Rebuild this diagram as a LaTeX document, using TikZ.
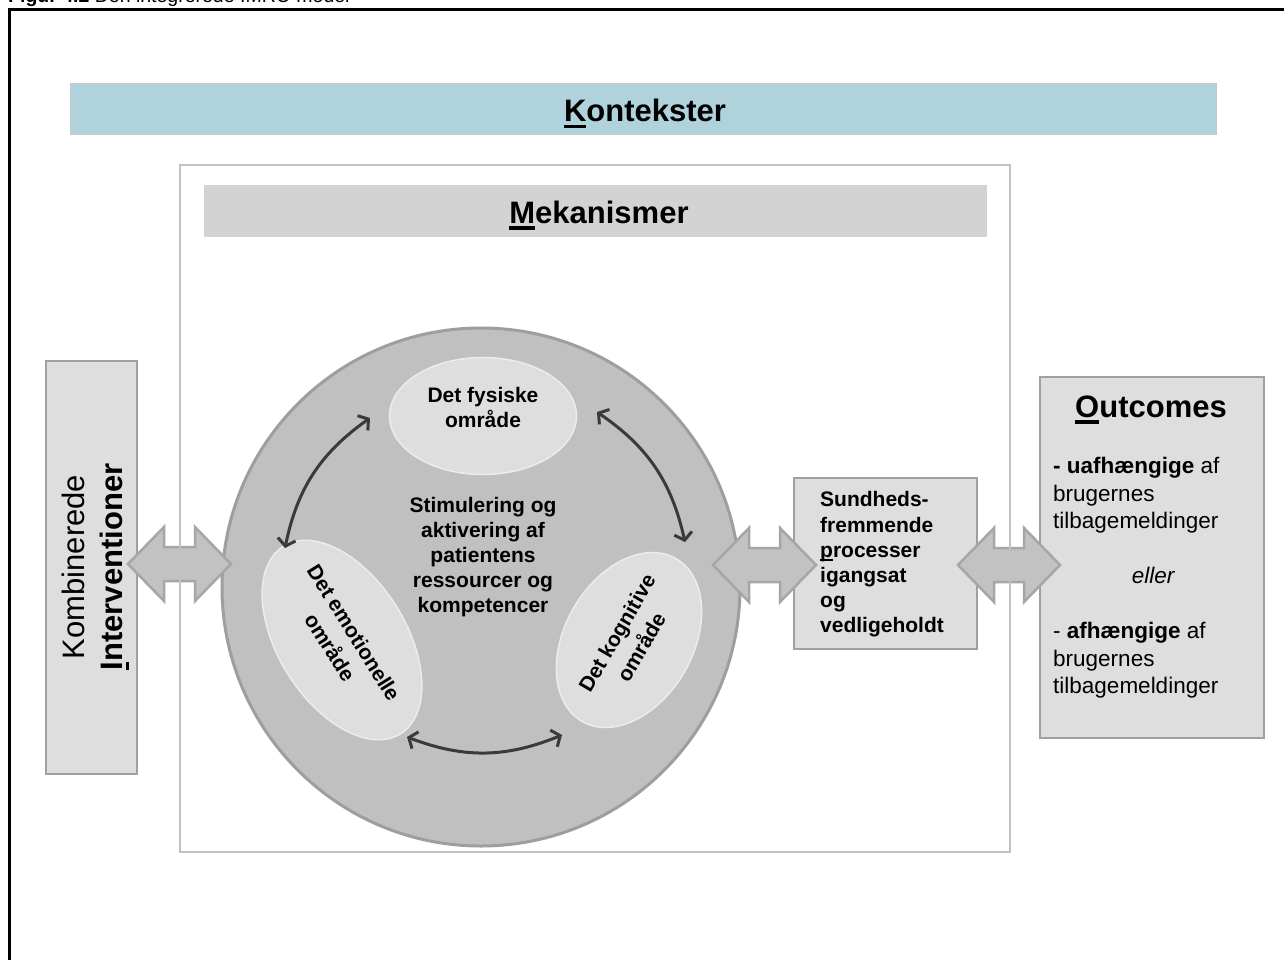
\documentclass[tikz,border=0pt]{standalone}
\usepackage{fontspec}
\setmainfont{Liberation Sans}
\usetikzlibrary{shapes.geometric,arrows.meta,bending,calc}
\definecolor{ctxblue}{RGB}{176,210,220}
\definecolor{ctxborder}{RGB}{200,200,200}
\definecolor{mekhdr}{RGB}{211,211,211}
\definecolor{mekborder}{RGB}{194,194,194}
\definecolor{circfill}{RGB}{192,192,192}
\definecolor{circborder}{RGB}{158,158,158}
\definecolor{ellfill}{RGB}{222,222,222}
\definecolor{ellborder}{RGB}{236,236,236}
\definecolor{boxfill}{RGB}{222,222,222}
\definecolor{boxborder}{RGB}{160,160,160}
\definecolor{bafill}{RGB}{194,194,194}
\definecolor{baborder}{RGB}{166,166,166}
\definecolor{arrowdark}{RGB}{58,58,58}
\newcommand\myul[3]{\setbox0\hbox{#3}\rlap{\rule[-#1]{\wd0}{#2}}\box0}
\newcommand\blockarrow[2]{\draw[barrow] (#1) -- ($(#1)+(36,37)$) -- ($(#1)+(36,17)$) -- ($(#2)+(-36,17)$) -- ($(#2)+(-36,37)$) -- (#2) -- ($(#2)+(-36,-37)$) -- ($(#2)+(-36,-17)$) -- ($(#1)+(36,-17)$) -- ($(#1)+(36,-37)$) -- cycle;}
\tikzset{
  hdr/.style={font=\fontsize{31}{37}\selectfont\bfseries, inner sep=0pt},
  bodyb/.style={font=\fontsize{21}{25.2}\selectfont\bfseries, inner sep=0pt},
  rotb/.style={font=\fontsize{21}{28}\selectfont\bfseries, inner sep=0pt},
  outtxt/.style={font=\fontsize{22.5}{27.5}\selectfont, inner sep=0pt, align=left},
  greybox/.style={draw=boxborder, fill=boxfill, line width=2.5pt},
  ell/.style={ellipse, draw=ellborder, fill=ellfill, line width=1.5pt, inner sep=0pt},
  curv/.style={draw=arrowdark, line width=3pt, arrows={Straight Barb[length=7pt,width=18pt]-Straight Barb[length=7pt,width=18pt]}},
  barrow/.style={draw=baborder, fill=bafill, line width=2.5pt, line join=miter},
}
\begin{document}
\begin{tikzpicture}[x=1pt,y=1pt]
\useasboundingbox (0,0) rectangle (1284,-960);
\clip (0,0) rectangle (1284,-960);
\fill[white] (0,0) rectangle (1284,-960);

% Kontekster bar
\node[draw=ctxborder, fill=ctxblue, line width=1pt, minimum width=1146pt, minimum height=51pt, inner sep=0pt] (ctxbar) at (643,-109.5) {};
\node[hdr, anchor=base] (ctxtxt) at (645,-122) {\myul{6.5pt}{3.5pt}{K}ontekster};

% Mekanismer header
\node[fill=mekhdr, minimum width=783pt, minimum height=52pt, inner sep=0pt] (mekbar) at (595.5,-211) {};
\node[hdr, anchor=base] (mektxt) at (599,-223) {\myul{6.5pt}{3.5pt}{M}ekanismer};

% big circle
\node[circle, draw=circborder, fill=circfill, line width=3pt, minimum size=518pt, inner sep=0pt] (circ) at (481,-587) {};

% ellipses
\node[ell, minimum width=187pt, minimum height=117pt] (fys) at (483,-416) {};
\node[bodyb, align=center] (fystxt) at (483,-407.5) {Det fysiske\\område};
\node[ell, rotate=-58, minimum width=188pt, minimum height=128pt, rotb, align=center] (emo) at (342,-640) {Det emotionelle\\område};
\node[ell, rotate=60, minimum width=188pt, minimum height=128pt, rotb, align=center] (kog) at (629,-640) {Det kognitive\\område};

% center text
\node[bodyb, align=center] (stim) at (483,-557) {Stimulering og\\aktivering af\\patientens\\ressourcer og\\kompetencer};

% curved arrows
\coordinate (c1a) at (285,-548);
\coordinate (c1b) at (370,-418);
\coordinate (c2a) at (597,-412);
\coordinate (c2b) at (685,-542);
\coordinate (c3a) at (407,-737);
\coordinate (c3b) at (562,-735);
\draw[curv] (c1a) to[bend left=22] (c1b);
\draw[curv] (c2a) to[bend left=22] (c2b);
\draw[curv] (c3a) to[bend right=22] (c3b);

% Interventioner box
\draw[greybox] (46,-361) rectangle (137,-774);
\node[rotate=90, align=center, inner sep=0pt, font=\fontsize{31}{38}\selectfont] (intv) at (96,-567) {Kombinerede\\\textbf{\myul{6.5pt}{3.5pt}{I}nterventioner}};

% Sundheds box
\draw[greybox] (794,-478) rectangle (977,-649);
\node[bodyb, align=left, anchor=west] (sund) at (820,-564.5) {Sundheds-\\fremmende\\\myul{4pt}{1.8pt}{p}rocesser\\igangsat\\og\\vedligeholdt};

% Outcomes box
\draw[greybox] (1040,-377) rectangle (1264,-738);
\node[hdr, anchor=base] (outh) at (1151,-417) {\myul{6.5pt}{3.5pt}{O}utcomes};
\node[outtxt, anchor=north west] (out1) at (1053,-457) {\textbf{- uafhængige} af\\brugernes\\tilbagemeldinger};
\node[outtxt, anchor=base] (eller) at (1153,-583) {\itshape eller};
\node[outtxt, anchor=north west] (out2) at (1053,-622) {- \textbf{afhængige} af\\brugernes\\tilbagemeldinger};

% block arrows
\coordinate (b1l) at (128,-564);
\coordinate (b1r) at (231,-564);
\coordinate (b2l) at (713,-565);
\coordinate (b2r) at (816,-565);
\coordinate (b3l) at (958,-565);
\coordinate (b3r) at (1060,-565);
\blockarrow{b1l}{b1r}
\blockarrow{b2l}{b2r}
\blockarrow{b3l}{b3r}

% Mekanismer outer border
\draw[draw=mekborder, line width=2.5pt] (180,-165) rectangle (1010,-852);

% outer frame and caption
\draw[black, line width=2.2pt] (9.5,-1000) |- (1300,-9.5);
\node[anchor=base west, inner sep=0pt, font=\fontsize{19.5}{20}\selectfont] (cap) at (8,-2.5) {\textbf{Figur 4.2} Den integrerede IMRC-model};
\end{tikzpicture}
\end{document}
